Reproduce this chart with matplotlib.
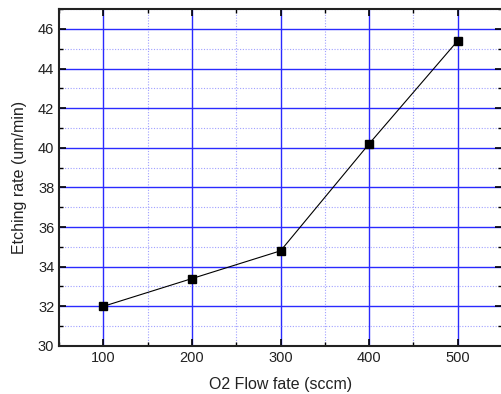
import numpy as np
import matplotlib
matplotlib.use("Agg")
from matplotlib import pyplot as plt
from matplotlib.ticker import MultipleLocator

plt.rcParams['font.family'] = ['Liberation Sans', 'DejaVu Sans']

# data
flow = [100, 200, 300, 400, 500]          # sccm
rate = [32.0, 33.4, 34.8, 40.2, 45.4]     # um/min

fig = plt.figure(figsize=(5.01, 3.94), dpi=100)
ax = fig.add_axes([0.118, 0.122, 0.884, 0.855])

ax.plot(flow, rate, color='black', linewidth=0.8, marker='s',
        markersize=6, markerfacecolor='black', markeredgecolor='black', zorder=3)

ax.set_xlim(50, 550)
ax.set_ylim(30, 47)
ax.xaxis.set_major_locator(MultipleLocator(100))
ax.xaxis.set_minor_locator(MultipleLocator(50))
ax.yaxis.set_major_locator(MultipleLocator(2))
ax.yaxis.set_minor_locator(MultipleLocator(1))

ax.grid(which='major', color='#2a2aff', linewidth=1.0, linestyle='-')
ax.grid(which='minor', color='#a0a0ff', linewidth=0.8, linestyle=(0, (1, 1.5)))
ax.set_axisbelow(True)

ax.tick_params(which='both', direction='in', top=True, right=True,
               labelsize=10.5, labelcolor='#222222')
ax.tick_params(which='major', length=5, width=1.2)
ax.tick_params(which='minor', length=3, width=1.0)
for s in ax.spines.values():
    s.set_linewidth(1.5)
    s.set_color('#222222')

ax.set_xlabel('O2 Flow fate (sccm)', fontsize=11.5, labelpad=9, color='#222222')
ax.set_ylabel('Etching rate (um/min)', fontsize=11.5, labelpad=8, color='#222222')

fig.savefig('out.png', dpi=100)
